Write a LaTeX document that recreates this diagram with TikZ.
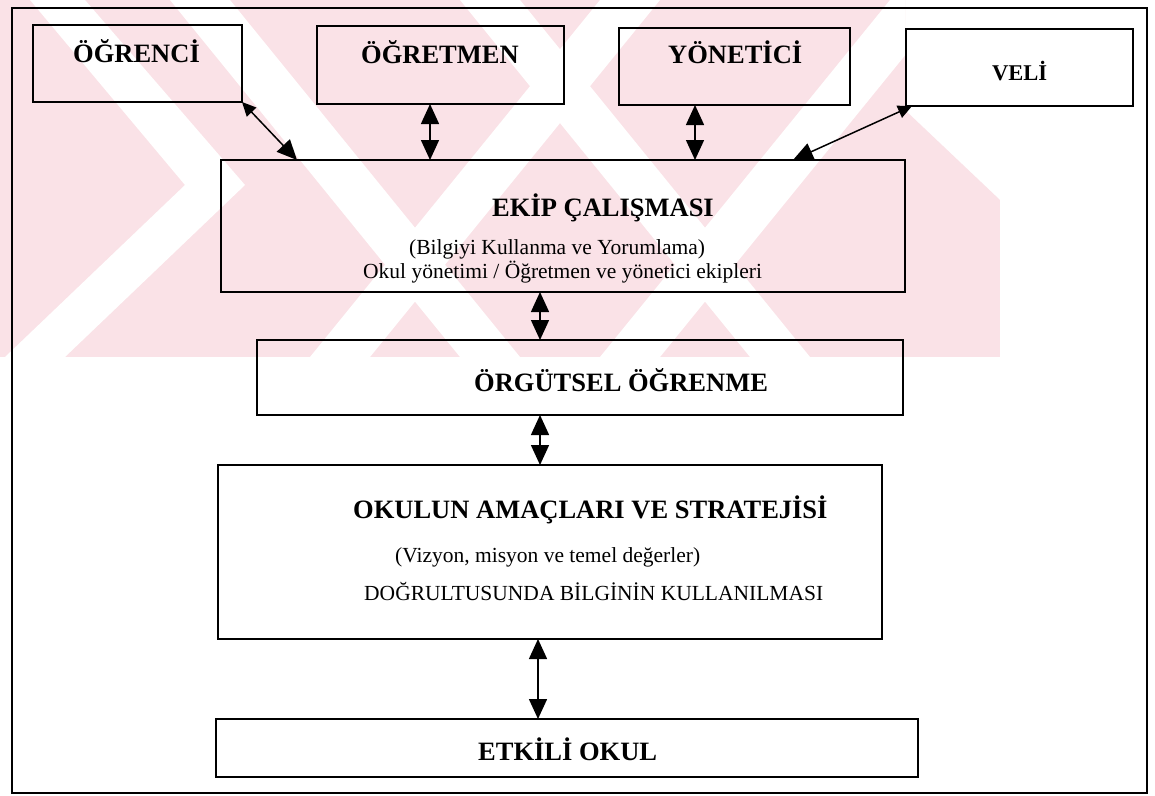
\documentclass[tikz,border=0pt]{standalone}
\usepackage{fontspec}
\setmainfont{Liberation Serif}
\usetikzlibrary{arrows.meta,fit}
\definecolor{wm}{RGB}{250,226,231}
\tikzset{
  box/.style={draw=black, line width=1.6pt, inner sep=0pt, outer sep=0pt},
  btxt/.style={font=\fontsize{26.5}{30}\selectfont\bfseries, inner sep=0pt, anchor=base west},
  rtxt/.style={font=\fontsize{21.5}{25}\selectfont, inner sep=0pt, anchor=base west},
  dar/.style={line width=1.5pt, {Triangle[length=20pt,width=18pt]}-{Triangle[length=20pt,width=18pt]}},
  sar/.style={line width=1.5pt, {Triangle[length=14pt,width=13pt]}-{Triangle[length=20pt,width=18pt]}},
  wstripe/.style={fill=white, draw=none},
}
\begin{document}
\begin{tikzpicture}[x=1pt,y=-1pt]
\useasboundingbox (0,0) rectangle (1155,795);
\fill[white] (0,0) rectangle (1155,795);
% watermark
\begin{scope}
\clip (0,0) -- (905,0) -- (905,110) -- (1000,200) -- (1000,357) -- (0,357) -- cycle;
\fill[wm] (0,0) rectangle (1000,357);
\fill[wstripe] (30,0) -- (85,0) -- (245,185) -- (65,357) -- (5,357) -- (185,185) -- cycle;
\fill[wstripe] (170,0) -- (230,0) -- (520,357) -- (460,357) -- cycle;
\fill[wstripe] (460,0) -- (520,0) -- (810,357) -- (750,357) -- cycle;
\fill[wstripe] (600,0) -- (660,0) -- (370,357) -- (310,357) -- cycle;
\fill[wstripe] (890,0) -- (950,0) -- (660,357) -- (600,357) -- cycle;
\end{scope}
% frame
\node[box, fit={(12,8) (1147,793)}] (frame) {};
% boxes
\node[box, fit={(33,25) (242,102)}] (ogrenci) {};
\node[box, fit={(317,26) (564,104)}] (ogretmen) {};
\node[box, fit={(619,28) (850,105)}] (yonetici) {};
\node[box, fill=white, fit={(906,29) (1133,106)}] (veli) {};
\node[box, fit={(221,160) (905,292)}] (ekip) {};
\node[box, fit={(257,340) (903,415)}] (orgutsel) {};
\node[box, fit={(218,465) (882,639)}] (okul) {};
\node[box, fit={(216,719) (918,777)}] (etkili) {};
% texts
\node[btxt] (t1) at (73,62) {ÖĞRENCİ};
\node[btxt] (t2) at (361,63) {ÖĞRETMEN};
\node[btxt] (t3) at (668,63) {YÖNETİCİ};
\node[btxt, font=\fontsize{22.5}{26}\selectfont\bfseries] (t4) at (992,80) {VELİ};
\node[btxt] (t5) at (492,216) {EKİP ÇALIŞMASI};
\node[rtxt] (t6) at (409,254) {(Bilgiyi Kullanma ve Yorumlama)};
\node[rtxt] (t7) at (363,278) {Okul yönetimi / Öğretmen ve yönetici ekipleri};
\node[btxt] (t8) at (474,391) {ÖRGÜTSEL ÖĞRENME};
\node[btxt] (t9) at (353,518) {OKULUN AMAÇLARI VE STRATEJİSİ};
\node[rtxt] (t10) at (395,562) {(Vizyon, misyon ve temel değerler)};
\node[rtxt] (t11) at (364,600) {DOĞRULTUSUNDA BİLGİNİN KULLANILMASI};
\node[btxt] (t12) at (478,760) {ETKİLİ OKUL};
% connectors
\coordinate (e1) at (297,160);
\draw[sar] (ogrenci.south east) -- (e1);
\draw[dar] ([xshift=-10.5pt]ogretmen.south) -- ([xshift=-10.5pt]ogretmen.south |- ekip.north);
\draw[dar] ([xshift=-39.5pt]yonetici.south) -- ([xshift=-39.5pt]yonetici.south |- ekip.north);
\coordinate (e4) at (793,160);
\draw[sar] ([xshift=-107.5pt]veli.south) -- (e4);
\draw[dar] ([xshift=-23pt]ekip.south) -- ([xshift=-23pt]ekip.south |- orgutsel.north);
\draw[dar] ([xshift=-40pt]orgutsel.south) -- ([xshift=-40pt]orgutsel.south |- okul.north);
\draw[dar] ([xshift=-12pt]okul.south) -- ([xshift=-12pt]okul.south |- etkili.north);
\end{tikzpicture}
\end{document}
